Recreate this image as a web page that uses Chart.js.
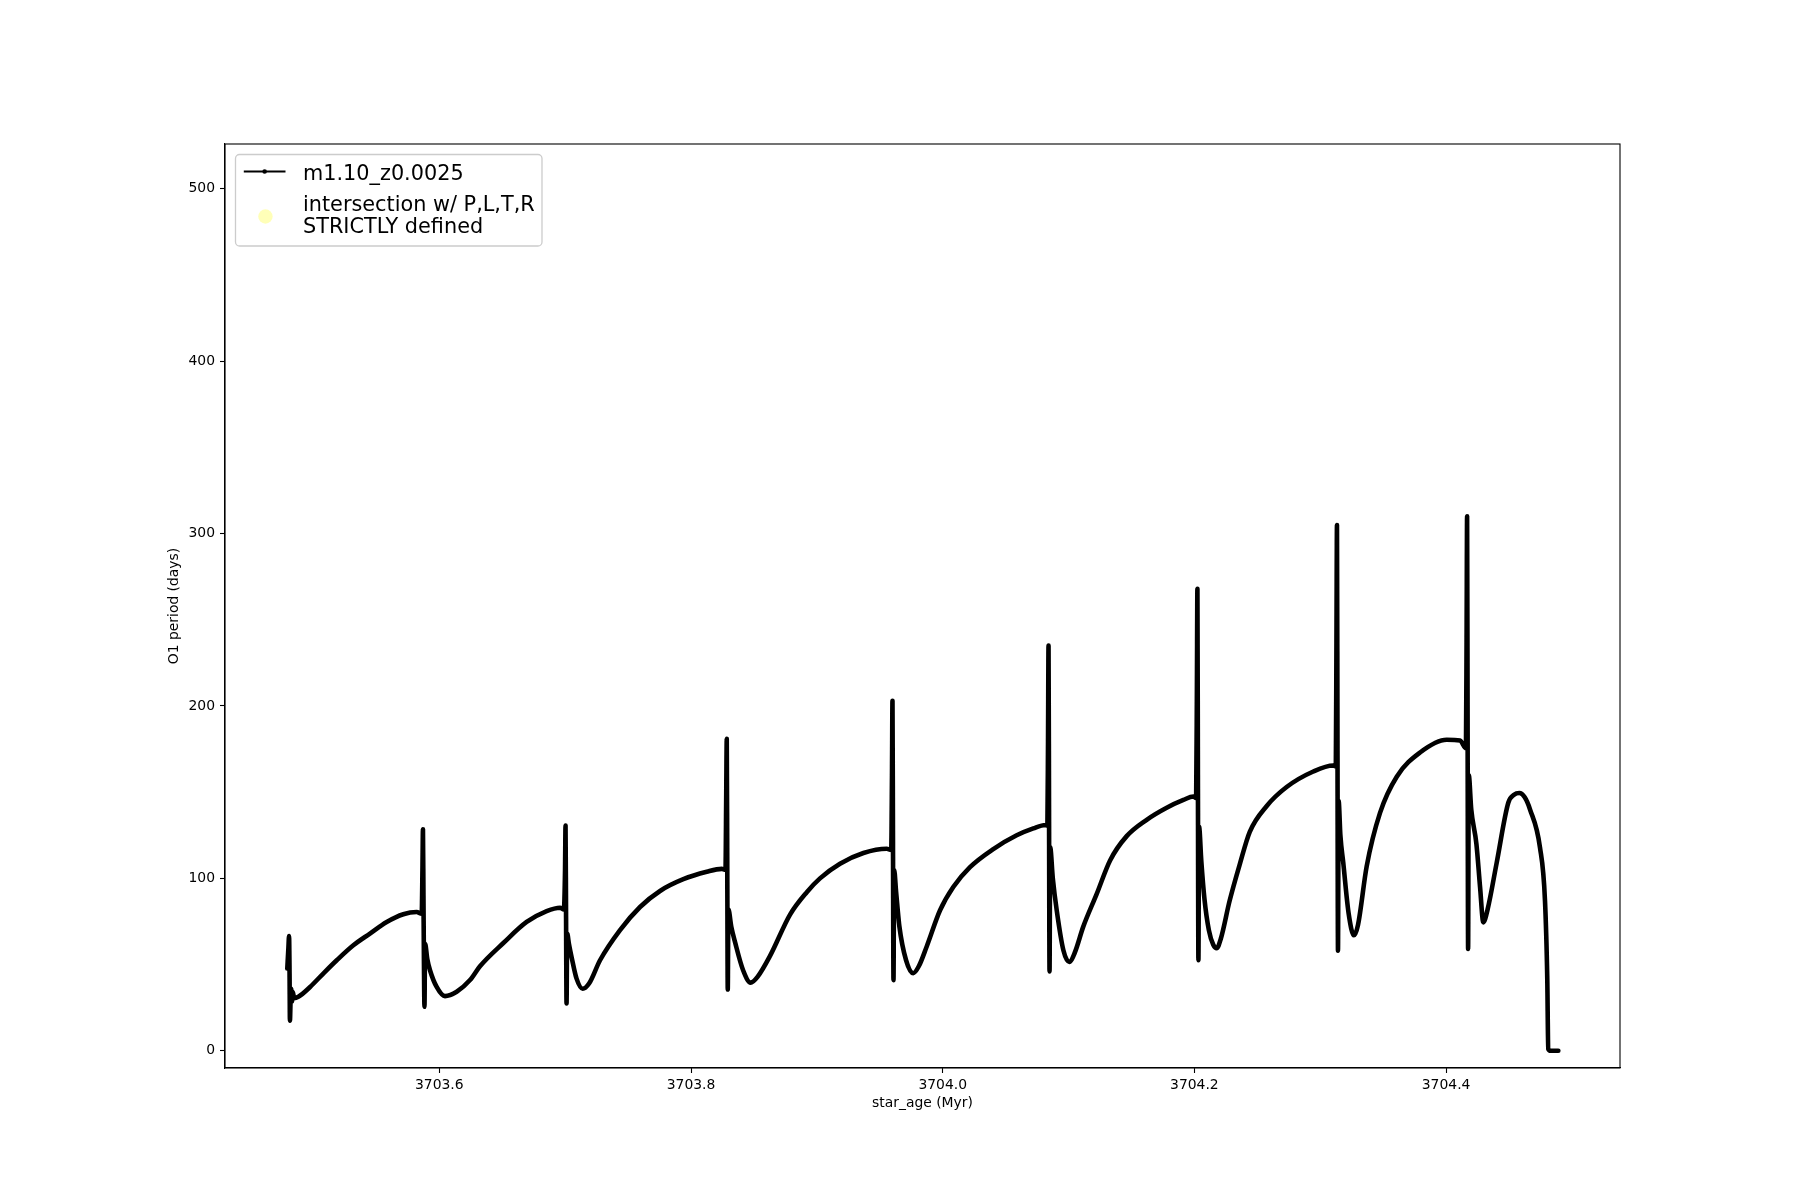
<!DOCTYPE html>
<html>
<head>
<meta charset="utf-8">
<script src="https://cdn.jsdelivr.net/npm/chart.js@4/dist/chart.umd.min.js"></script>
<style>
  html, body { margin: 0; padding: 0; background: #ffffff; }
  #c { display: block; }
</style>
</head>
<body>
<canvas id="c" width="1800" height="1200"></canvas>
<script>
// ---- data ----
const seriesLabel = 'm1.10_z0.0025';
const intersectLabel = ['intersection w/ P,L,T,R', 'STRICTLY defined'];
const xTitle = 'star_age (Myr)';
const yTitle = 'O1 period (days)';
const xTicks = [3703.6, 3703.8, 3704.0, 3704.2, 3704.4];
const yTicks = [0, 100, 200, 300, 400, 500];

const ages = [
  3703.4792, 3703.4801, 3703.4806, 3703.4810, 3703.4813, 3703.4818, 3703.4823, 3703.4829, 3703.4836, 3703.4846,
  3703.4880, 3703.4973, 3703.5078, 3703.5185, 3703.5317, 3703.5449, 3703.5582, 3703.5714, 3703.5820, 3703.5860,
  3703.5866, 3703.5870, 3703.5874, 3703.5878, 3703.5882, 3703.5887, 3703.5905, 3703.5926, 3703.5979, 3703.6045,
  3703.6138, 3703.6244, 3703.6323, 3703.6509, 3703.6694, 3703.6853, 3703.6959, 3703.6990,
  3703.6999, 3703.7003, 3703.7007, 3703.7011, 3703.7016, 3703.7030, 3703.7052, 3703.7090, 3703.7139, 3703.7190,
  3703.7277, 3703.7436, 3703.7595, 3703.7754, 3703.7939, 3703.8125, 3703.8244, 3703.8274,
  3703.8280, 3703.8284, 3703.8288, 3703.8292, 3703.8297, 3703.8320, 3703.8350, 3703.8414, 3703.8474, 3703.8530,
  3703.8628, 3703.8787, 3703.8920, 3703.9025, 3703.9184, 3703.9370, 3703.9555, 3703.9591,
  3703.9597, 3703.9601, 3703.9605, 3703.9609, 3703.9614, 3703.9630, 3703.9656, 3703.9709, 3703.9766, 3703.9810,
  3703.9873, 3703.9979, 3704.0084, 3704.0217, 3704.0402, 3704.0588, 3704.0720, 3704.0815, 3704.0832,
  3704.0837, 3704.0841, 3704.0845, 3704.0849, 3704.0854, 3704.0875, 3704.0906, 3704.0959, 3704.1006, 3704.1050,
  3704.1117, 3704.1224, 3704.1330, 3704.1462, 3704.1621, 3704.1780, 3704.1913, 3704.1992, 3704.2014,
  3704.2020, 3704.2024, 3704.2028, 3704.2032, 3704.2037, 3704.2055, 3704.2080, 3704.2115, 3704.2150, 3704.2177,
  3704.2210, 3704.2280, 3704.2360, 3704.2440, 3704.2575, 3704.2733, 3704.2945, 3704.3104, 3704.3124,
  3704.3129, 3704.3133, 3704.3137, 3704.3141, 3704.3146, 3704.3160, 3704.3183, 3704.3225, 3704.3268, 3704.3300,
  3704.3369, 3704.3475, 3704.3608, 3704.3793, 3704.4005, 3704.4111, 3704.4158,
  3704.4163, 3704.4167, 3704.4171, 3704.4175, 3704.4180, 3704.4200, 3704.4241, 3704.4270, 3704.4296, 3704.4330,
  3704.4402, 3704.4495, 3704.4540, 3704.4582, 3704.4625, 3704.4667, 3704.4746, 3704.4786, 3704.4804, 3704.4812,
  3704.4830, 3704.4892
];

const periods = [
  47.7, 60, 66.5, 45, 17.5, 29, 36, 28.5, 34, 30.5,
  31.3, 37, 44.8, 52.5, 61.2, 68, 74.7, 79.2, 80.5, 79.5,
  105, 128.5, 90, 50, 25.5, 62, 53, 46.7, 37, 31.7,
  34.2, 41, 49, 62.5, 74.7, 81, 83, 82,
  105, 130.7, 80, 27.4, 68, 62, 54, 42, 36, 39,
  52.5, 70, 83.4, 92.7, 99.5, 103.8, 105.5, 105,
  150, 181, 110, 35.5, 82, 72, 63, 46.7, 39.5, 43,
  55, 79, 92, 100, 108.5, 114.7, 117.2, 116.5,
  160, 203, 120, 41, 105, 92, 72, 52.5, 45, 49,
  60.5, 81.5, 95, 106.5, 117, 125, 129, 131, 130.5,
  180, 235, 140, 46, 118, 100, 81.5, 58.3, 51.5, 57,
  72, 91, 110.4, 124.5, 134, 141, 145.5, 147.5, 146.5,
  210, 268, 160, 52.5, 130, 110, 88, 70, 61.5, 59.5,
  65, 87, 108, 127, 142, 153, 162, 165.5, 165,
  240, 305, 180, 58, 145, 125, 109, 80, 67, 73,
  107, 138, 159, 173, 180.4, 180, 175.5,
  240, 310, 190, 59, 160, 140, 120, 95, 74.5, 82,
  109, 144, 148.5, 149.5, 147, 140, 118, 87, 42, 1,
  0, 0
];

// ---- build chart ----
const FONT = '"DejaVu Sans", "Liberation Sans", sans-serif';
const tickFont = { family: FONT, size: 13.9 };
const points = ages.map((a, i) => ({ x: a, y: periods[i] }));

const framePlugin = {
  id: 'frameAndLegend',
  afterDraw(chart) {
    const { ctx, chartArea: a } = chart;
    ctx.save();
    // axes box (all four spines)
    ctx.strokeStyle = '#000';
    ctx.lineWidth = 1.1;
    ctx.strokeRect(a.left, a.top, a.right - a.left, a.bottom - a.top);

    // legend box
    const bx = a.left + 10.5, by = a.top + 10.5, bw = 306.5, bh = 91.5;
    ctx.beginPath();
    if (ctx.roundRect) ctx.roundRect(bx, by, bw, bh, 4); else ctx.rect(bx, by, bw, bh);
    ctx.fillStyle = 'rgba(255,255,255,0.8)';
    ctx.fill();
    ctx.strokeStyle = '#cccccc';
    ctx.lineWidth = 1.3;
    ctx.stroke();

    // handle 1: line with a small dot
    const hx0 = bx + 8.3, hx1 = bx + 50, hy = by + 17;
    ctx.strokeStyle = '#000';
    ctx.lineWidth = 2;
    ctx.beginPath();
    ctx.moveTo(hx0, hy);
    ctx.lineTo(hx1, hy);
    ctx.stroke();
    ctx.fillStyle = '#000';
    ctx.beginPath();
    ctx.arc((hx0 + hx1) / 2, hy, 2.3, 0, Math.PI * 2);
    ctx.fill();

    // handle 2: pale yellow circle
    ctx.fillStyle = 'rgba(255,255,0,0.28)';
    ctx.beginPath();
    ctx.arc((hx0 + hx1) / 2 + 0.8, by + 62, 7.2, 0, Math.PI * 2);
    ctx.fill();

    // legend texts
    ctx.fillStyle = '#000';
    ctx.font = '20.8px ' + FONT;
    ctx.textAlign = 'left';
    ctx.textBaseline = 'alphabetic';
    const tx = bx + 67.5;
    ctx.fillText(chart.data.datasets[0].label, tx, by + 25);
    const lbl2 = chart.data.datasets[1].label.split('\n');
    ctx.fillText(lbl2[0], tx, by + 56);
    ctx.fillText(lbl2[1], tx, by + 78.5);
    ctx.restore();
  }
};

new Chart(document.getElementById('c'), {
  type: 'scatter',
  data: {
    datasets: [
      {
        label: seriesLabel,
        data: points,
        showLine: true,
        borderColor: '#000000',
        backgroundColor: '#000000',
        borderWidth: 4.6,
        pointRadius: 0,
        cubicInterpolationMode: 'monotone',
        borderJoinStyle: 'round',
        borderCapStyle: 'round'
      },
      {
        label: intersectLabel.join('\n'),
        data: [],
        showLine: false,
        pointRadius: 7,
        backgroundColor: 'rgba(255,255,0,0.28)',
        borderColor: 'rgba(255,255,0,0.28)'
      }
    ]
  },
  options: {
    responsive: false,
    animation: false,
    devicePixelRatio: 1,
    layout: { padding: { left: 0, right: 180, top: 144, bottom: 0 } },
    plugins: { legend: { display: false }, tooltip: { enabled: false } },
    scales: {
      x: {
        type: 'linear',
        position: 'bottom',
        min: 3703.4297,
        max: 3704.5382,
        afterBuildTicks: (s) => { s.ticks = xTicks.map(v => ({ value: v })); },
        afterFit: (s) => { s.height = 132; },
        ticks: {
          callback: (v) => Number(v).toFixed(1),
          font: tickFont, color: '#000', padding: 4.5,
          maxRotation: 0, minRotation: 0, autoSkip: false
        },
        grid: { display: true, drawOnChartArea: false, drawTicks: true, tickLength: 5, tickColor: '#000', tickWidth: 1.1 },
        border: { display: true, color: '#000', width: 1.1 },
        title: { display: true, text: xTitle, font: tickFont, color: '#000', padding: { top: 0, bottom: 88.5 } }
      },
      y: {
        type: 'linear',
        position: 'left',
        min: -10,
        max: 526,
        afterBuildTicks: (s) => { s.ticks = yTicks.map(v => ({ value: v })); },
        afterFit: (s) => { s.width = 225; },
        ticks: {
          callback: (v) => String(v),
          font: tickFont, color: '#000', padding: 5, autoSkip: false
        },
        grid: { display: true, drawOnChartArea: false, drawTicks: true, tickLength: 5, tickColor: '#000', tickWidth: 1.1 },
        border: { display: true, color: '#000', width: 1.1 },
        title: { display: true, text: yTitle, font: tickFont, color: '#000', padding: { top: 166, bottom: 0 } }
      }
    }
  },
  plugins: [framePlugin]
});
</script>
</body>
</html>
